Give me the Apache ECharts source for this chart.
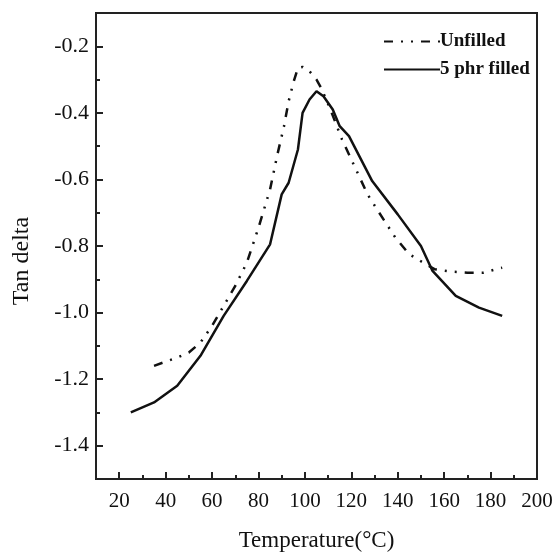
<!DOCTYPE html>
<html>
<head>
<meta charset="utf-8">
<script src="https://cdn.jsdelivr.net/npm/echarts@6/dist/echarts.min.js"></script>
<style>html,body{margin:0;padding:0;background:#fff}#c{width:555px;height:554px}</style>
</head>
<body>
<div id="c"></div>
<script>
// Unfilled (dash-dot-dot) : [temperature, tan delta]
var unfilled = [[35,-1.16],[45,-1.135],[50,-1.12],[55,-1.09],[60,-1.04],[65,-0.98],[70,-0.92],[75,-0.85],[80,-0.745],[85,-0.63],[88,-0.53],[91,-0.44],[93,-0.365],[95,-0.31],[97,-0.265],[99,-0.262],[102,-0.275],[105,-0.30],[107,-0.325],[111,-0.39],[116,-0.48],[122,-0.57],[127,-0.645],[132,-0.70],[139,-0.775],[145,-0.825],[151,-0.85],[156,-0.87],[163,-0.877],[170,-0.88],[177,-0.88],[185,-0.865]];
// 5 phr filled (solid)
var filled = [[25,-1.30],[35,-1.27],[45,-1.22],[55,-1.13],[65,-1.01],[75,-0.905],[85,-0.795],[90,-0.645],[93,-0.61],[97,-0.51],[99,-0.40],[102,-0.36],[105,-0.335],[108,-0.35],[112,-0.39],[115,-0.44],[119,-0.47],[129,-0.605],[140,-0.705],[150,-0.80],[155,-0.875],[165,-0.95],[175,-0.985],[185,-1.01]];
var seriesNames = ['Unfilled', '5 phr filled'];
var xMajor = [20,40,60,80,100,120,140,160,180,200];
var xMinor = [30,50,70,90,110,130,150,170,190];
var yMajor = [-1.4,-1.2,-1.0,-0.8,-0.6,-0.4,-0.2];
var yMinor = [-1.5,-1.3,-1.1,-0.9,-0.7,-0.5,-0.3];
var xLabel = 'Temperature(\u00B0C)';
var yLabel = 'Tan delta';

var FONT = 'Liberation Serif';
var chart = echarts.init(document.getElementById('c'), null, {renderer:'canvas'});
var txt = {fontFamily: FONT, color: '#111', fontSize: 23};
chart.setOption({
  animation: false,
  backgroundColor: '#fff',
  grid: {left: 96, top: 13, right: 18, bottom: 75, outerBoundsMode: 'none', containLabel: false, show: true, borderColor: '#222', borderWidth: 2, backgroundColor: 'transparent'},
  legend: {
    orient: 'vertical', left: 378, top: 27, itemWidth: 56, itemHeight: 14, itemGap: 9,
    itemStyle: {opacity: 0},
    textStyle: {fontFamily: FONT, fontSize: 19, color: '#111', fontWeight: 'bold', padding: [0,0,0,-5]},
    data: seriesNames
  },
  xAxis: [{
    type: 'value', min: 10, max: 200,
    axisLine: {show: true, lineStyle: {color: '#222', width: 2}},
    axisTick: {show: true, inside: true, length: 7, customValues: xMajor, lineStyle: {color: '#222', width: 2}},
    axisLabel: {customValues: xMajor, margin: 12, fontFamily: FONT, fontSize: 21, color: '#111'},
    splitLine: {show: false},
    name: xLabel, nameLocation: 'middle', nameGap: 50, nameTextStyle: txt
  }, {
    type: 'value', min: 10, max: 200, position: 'bottom',
    axisLine: {show: false},
    axisTick: {show: true, inside: true, length: 4, customValues: xMinor, lineStyle: {color: '#222', width: 2}},
    axisLabel: {show: false}, splitLine: {show: false}
  }],
  yAxis: [{
    type: 'value', min: -1.5, max: -0.1,
    axisLine: {show: true, lineStyle: {color: '#222', width: 2}},
    axisTick: {show: true, inside: true, length: 7, customValues: yMajor, lineStyle: {color: '#222', width: 2}},
    axisLabel: {customValues: yMajor, margin: 7, fontFamily: FONT, fontSize: 22, color: '#111', formatter: function(v){return v.toFixed(1);}},
    splitLine: {show: false},
    name: yLabel, nameLocation: 'middle', nameGap: 62, nameTextStyle: Object.assign({}, txt, {fontSize: 24, padding: [0, 0, 0, -30]})
  }, {
    type: 'value', min: -1.5, max: -0.1, position: 'left',
    axisLine: {show: false},
    axisTick: {show: true, inside: true, length: 4, customValues: yMinor, lineStyle: {color: '#222', width: 2}},
    axisLabel: {show: false}, splitLine: {show: false}
  }],
  series: [{
    name: seriesNames[0], type: 'line', data: unfilled, symbol: 'none', xAxisIndex: 0, yAxisIndex: 0,
    lineStyle: {color: '#111', width: 2.5, type: [9,8,2,8,2,8]}, itemStyle: {color: '#111'}
  }, {
    name: seriesNames[1], type: 'line', data: filled, symbol: 'none', xAxisIndex: 0, yAxisIndex: 0,
    lineStyle: {color: '#111', width: 2.5, type: 'solid'}, itemStyle: {color: '#111'}
  }]
});
</script>
</body>
</html>
